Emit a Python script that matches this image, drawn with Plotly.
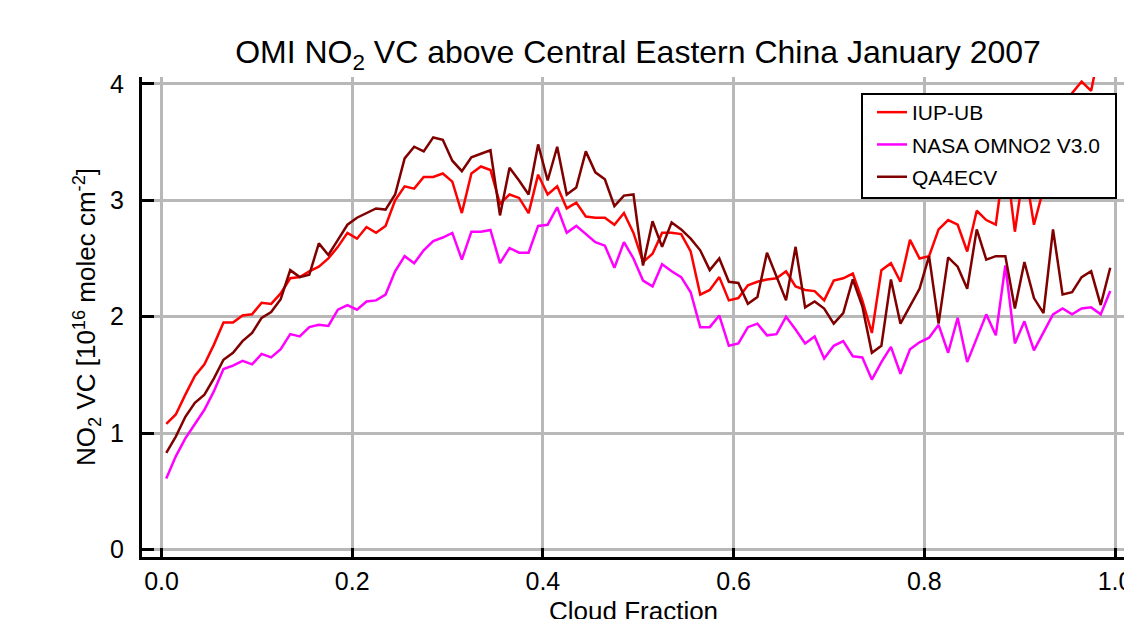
import plotly.graph_objects as go

# Cloud-fraction bin centres (0.01 wide bins)
cloud_fraction = [
    0.005, 0.015, 0.025, 0.035, 0.045, 0.055, 0.065, 0.075, 0.085, 0.095,
    0.105, 0.115, 0.125, 0.135, 0.145, 0.155, 0.165, 0.175, 0.185, 0.195,
    0.205, 0.215, 0.225, 0.235, 0.245, 0.255, 0.265, 0.275, 0.285, 0.295,
    0.305, 0.315, 0.325, 0.335, 0.345, 0.355, 0.365, 0.375, 0.385, 0.395,
    0.405, 0.415, 0.425, 0.435, 0.445, 0.455, 0.465, 0.475, 0.485, 0.495,
    0.505, 0.515, 0.525, 0.535, 0.545, 0.555, 0.565, 0.575, 0.585, 0.595,
    0.605, 0.615, 0.625, 0.635, 0.645, 0.655, 0.665, 0.675, 0.685, 0.695,
    0.705, 0.715, 0.725, 0.735, 0.745, 0.755, 0.765, 0.775, 0.785, 0.795,
    0.805, 0.815, 0.825, 0.835, 0.845, 0.855, 0.865, 0.875, 0.885, 0.895,
    0.905, 0.915, 0.925, 0.935, 0.945, 0.955, 0.965, 0.975, 0.985, 0.995,
]

# Mean tropospheric NO2 vertical column [1e16 molec/cm2] per bin
iup_ub = [
    1.08, 1.16, 1.33, 1.49, 1.59, 1.76, 1.95, 1.95, 2.01, 2.02,
    2.12, 2.11, 2.20, 2.33, 2.34, 2.39, 2.43, 2.50, 2.60, 2.72,
    2.67, 2.77, 2.72, 2.78, 3.00, 3.12, 3.10, 3.20, 3.20, 3.23,
    3.16, 2.89, 3.23, 3.29, 3.26, 2.97, 3.05, 3.02, 2.89, 3.22,
    3.05, 3.12, 2.93, 2.98, 2.86, 2.85, 2.85, 2.79, 2.89, 2.72,
    2.47, 2.54, 2.72, 2.72, 2.71, 2.56, 2.19, 2.23, 2.34, 2.14,
    2.16, 2.27, 2.30, 2.32, 2.33, 2.39, 2.26, 2.23, 2.22, 2.14,
    2.31, 2.33, 2.37, 2.14, 1.86, 2.40, 2.46, 2.30, 2.66, 2.50,
    2.52, 2.75, 2.83, 2.79, 2.56, 2.91, 2.83, 2.79, 3.40, 2.73,
    3.30, 2.79, 3.10, 3.35, 3.60, 3.92, 4.02, 3.94, 4.35, 4.30,
]

nasa_omno2 = [
    0.61, 0.80, 0.955, 1.08, 1.20, 1.36, 1.55, 1.58, 1.62, 1.59,
    1.68, 1.65, 1.72, 1.85, 1.83, 1.91, 1.93, 1.92, 2.06, 2.10,
    2.06, 2.13, 2.14, 2.19, 2.39, 2.52, 2.46, 2.57, 2.65, 2.68,
    2.72, 2.49, 2.73, 2.73, 2.745, 2.46, 2.59, 2.55, 2.55, 2.78,
    2.79, 2.94, 2.72, 2.78, 2.71, 2.64, 2.61, 2.42, 2.64, 2.50,
    2.31, 2.26, 2.45, 2.39, 2.34, 2.21, 1.91, 1.91, 2.01, 1.75,
    1.77, 1.91, 1.94, 1.84, 1.85, 2.00, 1.89, 1.77, 1.83, 1.64,
    1.75, 1.79, 1.66, 1.65, 1.46, 1.61, 1.74, 1.51, 1.72, 1.78,
    1.82, 1.93, 1.69, 1.99, 1.61, 1.81, 2.02, 1.84, 2.44, 1.77,
    1.96, 1.71, 1.87, 2.02, 2.07, 2.02, 2.07, 2.08, 2.02, 2.22,
]

qa4ecv = [
    0.83, 0.97, 1.14, 1.26, 1.33, 1.47, 1.63, 1.69, 1.79, 1.86,
    1.99, 2.04, 2.15, 2.40, 2.34, 2.36, 2.63, 2.53, 2.66, 2.79,
    2.85, 2.89, 2.93, 2.92, 3.05, 3.36, 3.46, 3.42, 3.54, 3.52,
    3.34, 3.25, 3.37, 3.40, 3.43, 2.87, 3.28, 3.17, 3.05, 3.48,
    3.17, 3.46, 3.05, 3.11, 3.42, 3.24, 3.18, 2.95, 3.04, 3.05,
    2.44, 2.82, 2.60, 2.81, 2.75, 2.67, 2.57, 2.40, 2.50, 2.30,
    2.29, 2.11, 2.17, 2.55, 2.34, 2.14, 2.60, 2.08, 2.13, 2.07,
    1.94, 2.03, 2.32, 2.09, 1.69, 1.75, 2.32, 1.94, 2.09, 2.24,
    2.52, 1.94, 2.51, 2.43, 2.24, 2.75, 2.49, 2.52, 2.52, 2.07,
    2.47, 2.16, 2.03, 2.75, 2.19, 2.21, 2.34, 2.39, 2.10, 2.42,
]

series_names = ["IUP-UB", "NASA OMNO2 V3.0", "QA4ECV"]
series_colors = ["#ff0000", "#ff00ff", "#800000"]

x_ticks = [0.0, 0.2, 0.4, 0.6, 0.8, 1.0]
x_tick_text = ["0.0", "0.2", "0.4", "0.6", "0.8", "1.0"]
y_ticks = [0, 1, 2, 3, 4]
y_tick_text = ["0", "1", "2", "3", "4"]

FONT = "Liberation Sans, Arial, Helvetica, sans-serif"
X_RANGE = [-0.02045, 1.00944]
Y_RANGE = [-0.0644, 4.059]

# Plot-area geometry in pixels (used to place the legend frame and x title)
PLOT_L, PLOT_R, PLOT_T, PLOT_B = 142, 1124, 77, 557
PW, PH = PLOT_R - PLOT_L, PLOT_B - PLOT_T

fig = go.Figure()
for name, values, color in zip(series_names, [iup_ub, nasa_omno2, qa4ecv], series_colors):
    fig.add_trace(go.Scatter(
        x=cloud_fraction, y=values, name=name, mode="lines",
        line=dict(color=color, width=2.5),
        legendgroup=name,
    ))

axis_common = dict(
    showgrid=True, gridcolor="#b8b8b8", gridwidth=2.5,
    zeroline=False, linecolor="black", linewidth=3,
    ticks="inside", tickcolor="black", tickwidth=3,
    tickfont=dict(family=FONT, size=25, color="black"),
    ticklabeloverflow="allow", automargin=False,
)

# Legend frame (drawn as a white box over the curves)
legend_box = dict(
    type="rect", xref="paper", yref="paper", layer="above",
    x0=(862 - PLOT_L) / PW, x1=(1116 - PLOT_L) / PW,
    y0=(PLOT_B - 198) / PH, y1=(PLOT_B - 94) / PH,
    fillcolor="white", line=dict(color="black", width=2),
)

fig.update_layout(
    width=1124, height=619,
    margin=dict(l=PLOT_L, r=1124 - PLOT_R, t=PLOT_T, b=619 - PLOT_B),
    paper_bgcolor="white", plot_bgcolor="white",
    font=dict(family=FONT, color="black"),
    title=dict(
        text="OMI NO<sub>2</sub> VC above Central Eastern China January 2007",
        x=638 / 1124, xanchor="center", xref="container",
        y=1 - 52 / 619, yanchor="middle", yref="container",
        font=dict(family=FONT, size=32, color="black"),
    ),
    xaxis=dict(
        axis_common, range=X_RANGE, tickvals=x_ticks, ticktext=x_tick_text,
        ticklen=9, showline=True, mirror=False,
    ),
    xaxis2=dict(
        overlaying="x", side="top", range=X_RANGE, tickvals=x_ticks,
        showticklabels=False, showgrid=False, zeroline=False,
        showline=True, linecolor="black", linewidth=3, automargin=False,
        ticks="inside", ticklen=9, tickwidth=3, tickcolor="black",
    ),
    yaxis=dict(
        axis_common, range=Y_RANGE, tickvals=y_ticks, ticktext=y_tick_text,
        ticklen=12, showline=True, mirror=False, ticklabelstandoff=10,
        title=dict(
            text="NO<sub>2</sub> VC [10<sup>16</sup> molec cm<sup>-2</sup>]",
            font=dict(family=FONT, size=26), standoff=7,
        ),
    ),
    yaxis2=dict(
        overlaying="y", side="right", range=Y_RANGE, tickvals=y_ticks,
        showticklabels=False, showgrid=False, zeroline=False, showline=False,
        ticks="inside", ticklen=3, tickwidth=3, tickcolor="black", automargin=False,
    ),
    legend=dict(
        x=(872 - PLOT_L) / PW, xanchor="left", y=(PLOT_B - 92) / PH, yanchor="top",
        bgcolor="rgba(0,0,0,0)", borderwidth=0,
        font=dict(family=FONT, size=21, color="black"),
        tracegroupgap=2,
    ),
    shapes=[legend_box],
    annotations=[dict(
        text="Cloud Fraction", xref="paper", yref="paper",
        x=(633 - PLOT_L) / PW, xanchor="center",
        y=(PLOT_B - 611) / PH, yanchor="middle",
        showarrow=False, font=dict(family=FONT, size=26, color="black"),
    )],
    showlegend=True,
)

fig.write_html("out.html")
